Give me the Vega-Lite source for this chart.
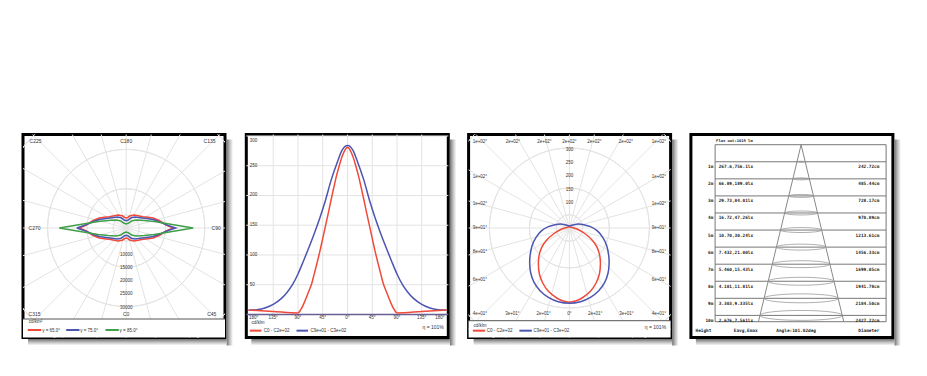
{
"$schema":"https://vega.github.io/schema/vega-lite/v6.json",
"background":"#ffffff",
"padding":{"left":21,"top":132.5,"right":0,"bottom":0},
"spacing":8.3,
"config":{"view":{"stroke":"#000000","strokeWidth":3,"fill":"#ffffff"},"axis":{"disable":true},"legend":{"disable":true}},
"resolve":{"scale":{"color":"independent","radius":"independent","size":"independent"}},
"datasets":{
"c1":[{"r":5000},{"r":10000},{"r":15000},{"r":20000},{"r":25000},{"r":30000},{"r":35000},{"r":40000},{"r":45000},{"r":50000},{"r":55000},{"r":60000}],
"s1":[{"xa":0,"ya":-60000,"xb":0,"yb":60000},{"xa":-15529,"ya":-57956,"xb":15529,"yb":57956},{"xa":-30000,"ya":-51962,"xb":30000,"yb":51962},{"xa":-42426,"ya":-42426,"xb":42426,"yb":42426},{"xa":-51962,"ya":-30000,"xb":51962,"yb":30000},{"xa":-57956,"ya":-15529,"xb":57956,"yb":15529},{"xa":-60000,"ya":0,"xb":60000,"yb":0},{"xa":-57956,"ya":15529,"xb":57956,"yb":-15529},{"xa":-51962,"ya":30000,"xb":51962,"yb":-30000},{"xa":-42426,"ya":42426,"xb":42426,"yb":-42426},{"xa":-30000,"ya":51962,"xb":30000,"yb":-51962},{"xa":-15529,"ya":57956,"xb":15529,"yb":-57956}],
"p1":[
{"s":"r","i":0,"x":-17940,"y":0},{"s":"r","i":1,"x":-15270,"y":1150},{"s":"r","i":2,"x":-12600,"y":2860},{"s":"r","i":3,"x":-10310,"y":3820},{"s":"r","i":4,"x":-8400,"y":4080},{"s":"r","i":5,"x":-6490,"y":4310},{"s":"r","i":6,"x":-4580,"y":4700},{"s":"r","i":7,"x":-3050,"y":4960},{"s":"r","i":8,"x":-1530,"y":4660},{"s":"r","i":9,"x":-570,"y":4010},{"s":"r","i":10,"x":0,"y":3820},{"s":"r","i":11,"x":570,"y":4010},{"s":"r","i":12,"x":1530,"y":4660},{"s":"r","i":13,"x":3050,"y":4960},{"s":"r","i":14,"x":4580,"y":4700},{"s":"r","i":15,"x":6490,"y":4310},{"s":"r","i":16,"x":8400,"y":4080},{"s":"r","i":17,"x":10310,"y":3820},{"s":"r","i":18,"x":12600,"y":2860},{"s":"r","i":19,"x":15270,"y":1150},{"s":"r","i":20,"x":17940,"y":0},{"s":"r","i":21,"x":15270,"y":-1150},{"s":"r","i":22,"x":12600,"y":-2860},{"s":"r","i":23,"x":10310,"y":-3820},{"s":"r","i":24,"x":8400,"y":-4080},{"s":"r","i":25,"x":6490,"y":-4310},{"s":"r","i":26,"x":4580,"y":-4700},{"s":"r","i":27,"x":3050,"y":-4960},{"s":"r","i":28,"x":1530,"y":-4660},{"s":"r","i":29,"x":570,"y":-4010},{"s":"r","i":30,"x":0,"y":-3820},{"s":"r","i":31,"x":-570,"y":-4010},{"s":"r","i":32,"x":-1530,"y":-4660},{"s":"r","i":33,"x":-3050,"y":-4960},{"s":"r","i":34,"x":-4580,"y":-4700},{"s":"r","i":35,"x":-6490,"y":-4310},{"s":"r","i":36,"x":-8400,"y":-4080},{"s":"r","i":37,"x":-10310,"y":-3820},{"s":"r","i":38,"x":-12600,"y":-2860},{"s":"r","i":39,"x":-15270,"y":-1150},{"s":"r","i":40,"x":-17940,"y":0},
{"s":"b","i":0,"x":-18890,"y":0},{"s":"b","i":1,"x":-16030,"y":950},{"s":"b","i":2,"x":-13360,"y":2100},{"s":"b","i":3,"x":-10310,"y":3240},{"s":"b","i":4,"x":-7630,"y":3630},{"s":"b","i":5,"x":-5340,"y":3930},{"s":"b","i":6,"x":-3440,"y":4200},{"s":"b","i":7,"x":-1910,"y":3890},{"s":"b","i":8,"x":-760,"y":3050},{"s":"b","i":9,"x":0,"y":2790},{"s":"b","i":10,"x":760,"y":3050},{"s":"b","i":11,"x":1910,"y":3890},{"s":"b","i":12,"x":3440,"y":4200},{"s":"b","i":13,"x":5340,"y":3930},{"s":"b","i":14,"x":7630,"y":3630},{"s":"b","i":15,"x":10310,"y":3240},{"s":"b","i":16,"x":13360,"y":2100},{"s":"b","i":17,"x":16030,"y":950},{"s":"b","i":18,"x":18890,"y":0},{"s":"b","i":19,"x":16030,"y":-950},{"s":"b","i":20,"x":13360,"y":-2100},{"s":"b","i":21,"x":10310,"y":-3240},{"s":"b","i":22,"x":7630,"y":-3630},{"s":"b","i":23,"x":5340,"y":-3930},{"s":"b","i":24,"x":3440,"y":-4200},{"s":"b","i":25,"x":1910,"y":-3890},{"s":"b","i":26,"x":760,"y":-3050},{"s":"b","i":27,"x":0,"y":-2790},{"s":"b","i":28,"x":-760,"y":-3050},{"s":"b","i":29,"x":-1910,"y":-3890},{"s":"b","i":30,"x":-3440,"y":-4200},{"s":"b","i":31,"x":-5340,"y":-3930},{"s":"b","i":32,"x":-7630,"y":-3630},{"s":"b","i":33,"x":-10310,"y":-3240},{"s":"b","i":34,"x":-13360,"y":-2100},{"s":"b","i":35,"x":-16030,"y":-950},{"s":"b","i":36,"x":-18890,"y":0},
{"s":"g","i":0,"x":-25570,"y":0},{"s":"g","i":1,"x":-20990,"y":760},{"s":"g","i":2,"x":-15270,"y":1720},{"s":"g","i":3,"x":-10690,"y":2480},{"s":"g","i":4,"x":-6870,"y":2860},{"s":"g","i":5,"x":-4200,"y":3050},{"s":"g","i":6,"x":-2290,"y":2790},{"s":"g","i":7,"x":-950,"y":1910},{"s":"g","i":8,"x":0,"y":1530},{"s":"g","i":9,"x":950,"y":1910},{"s":"g","i":10,"x":2290,"y":2790},{"s":"g","i":11,"x":4200,"y":3050},{"s":"g","i":12,"x":6870,"y":2860},{"s":"g","i":13,"x":10690,"y":2480},{"s":"g","i":14,"x":15270,"y":1720},{"s":"g","i":15,"x":20990,"y":760},{"s":"g","i":16,"x":25570,"y":0},{"s":"g","i":17,"x":20990,"y":-760},{"s":"g","i":18,"x":15270,"y":-1720},{"s":"g","i":19,"x":10690,"y":-2480},{"s":"g","i":20,"x":6870,"y":-2860},{"s":"g","i":21,"x":4200,"y":-3050},{"s":"g","i":22,"x":2290,"y":-2790},{"s":"g","i":23,"x":950,"y":-1910},{"s":"g","i":24,"x":0,"y":-1530},{"s":"g","i":25,"x":-950,"y":-1910},{"s":"g","i":26,"x":-2290,"y":-2790},{"s":"g","i":27,"x":-4200,"y":-3050},{"s":"g","i":28,"x":-6870,"y":-2860},{"s":"g","i":29,"x":-10690,"y":-2480},{"s":"g","i":30,"x":-15270,"y":-1720},{"s":"g","i":31,"x":-20990,"y":-760},{"s":"g","i":32,"x":-25570,"y":0}],
"l1":[{"x":-34620,"y":33320,"t":"C225"},{"x":0,"y":33320,"t":"C180"},{"x":31800,"y":33320,"t":"C135"},{"x":-35000,"y":0,"t":"C270"},{"x":34350,"y":0,"t":"C90"},{"x":-35000,"y":-32830,"t":"C315"},{"x":0,"y":-32830,"t":"C0"},{"x":32670,"y":-32830,"t":"C45"}],
"k1":[{"y":-10000,"t":"10000"},{"y":-15000,"t":"15000"},{"y":-20000,"t":"20000"},{"y":-25000,"t":"25000"},{"y":-30000,"t":"30000"}],
"g1":[{"s":"r","t":"γ = 65.0°","x":-37559,"x2":-32445,"tx":-32063},{"s":"b","t":"γ = 75.0°","x":-22902,"x2":-17825,"tx":-17558},{"s":"g","t":"γ = 85.0°","x":-7901,"x2":-2825,"tx":-2557}],
"v2":[{"a":-135},{"a":-90},{"a":-45},{"a":0},{"a":45},{"a":90},{"a":135}],
"h2":[{"v":50},{"v":100},{"v":150},{"v":200},{"v":250},{"v":300}],
"p2":[
{"s":"b","a":-180,"v":7},{"s":"b","a":-165,"v":8},{"s":"b","a":-150,"v":11},{"s":"b","a":-135,"v":17},{"s":"b","a":-120,"v":27},{"s":"b","a":-110,"v":37},{"s":"b","a":-100,"v":50},{"s":"b","a":-90,"v":68},{"s":"b","a":-80,"v":90},{"s":"b","a":-70,"v":113},{"s":"b","a":-60,"v":137},{"s":"b","a":-50,"v":163},{"s":"b","a":-40,"v":192},{"s":"b","a":-30,"v":225},{"s":"b","a":-20,"v":252},{"s":"b","a":-10,"v":276},{"s":"b","a":0,"v":284},{"s":"b","a":10,"v":276},{"s":"b","a":20,"v":252},{"s":"b","a":30,"v":225},{"s":"b","a":40,"v":192},{"s":"b","a":50,"v":163},{"s":"b","a":60,"v":137},{"s":"b","a":70,"v":113},{"s":"b","a":80,"v":90},{"s":"b","a":90,"v":68},{"s":"b","a":100,"v":50},{"s":"b","a":110,"v":37},{"s":"b","a":120,"v":27},{"s":"b","a":135,"v":17},{"s":"b","a":150,"v":11},{"s":"b","a":165,"v":8},{"s":"b","a":180,"v":7},
{"s":"r","a":-180,"v":7.5},{"s":"r","a":-135,"v":5},{"s":"r","a":-90,"v":2.5},{"s":"r","a":-85,"v":8},{"s":"r","a":-80,"v":17},{"s":"r","a":-75,"v":28},{"s":"r","a":-70,"v":40},{"s":"r","a":-65,"v":52},{"s":"r","a":-60,"v":70},{"s":"r","a":-55,"v":88},{"s":"r","a":-50,"v":107},{"s":"r","a":-45,"v":128},{"s":"r","a":-40,"v":149},{"s":"r","a":-35,"v":170},{"s":"r","a":-30,"v":192},{"s":"r","a":-25,"v":213},{"s":"r","a":-20,"v":233},{"s":"r","a":-15,"v":250},{"s":"r","a":-10,"v":265},{"s":"r","a":-5,"v":276},{"s":"r","a":0,"v":281},{"s":"r","a":5,"v":276},{"s":"r","a":10,"v":265},{"s":"r","a":15,"v":250},{"s":"r","a":20,"v":233},{"s":"r","a":25,"v":213},{"s":"r","a":30,"v":192},{"s":"r","a":35,"v":170},{"s":"r","a":40,"v":149},{"s":"r","a":45,"v":128},{"s":"r","a":50,"v":107},{"s":"r","a":55,"v":88},{"s":"r","a":60,"v":70},{"s":"r","a":65,"v":52},{"s":"r","a":70,"v":40},{"s":"r","a":75,"v":28},{"s":"r","a":80,"v":17},{"s":"r","a":85,"v":8},{"s":"r","a":90,"v":2.5},{"s":"r","a":135,"v":5},{"s":"r","a":180,"v":7.5}],
"t2":[{"a":-135,"t":"135°"},{"a":-90,"t":"90°"},{"a":-45,"t":"45°"},{"a":0,"t":"0°"},{"a":45,"t":"45°"},{"a":90,"t":"90°"},{"a":135,"t":"135°"}],
"g2":[{"s":"r","t":"C0 - C2e+02","x":-177.6,"x2":-156.4,"tx":-152.2},{"s":"b","t":"C9e+01 - C3e+02","x":-92.7,"x2":-71.6,"tx":-67.3}],
"c3":[{"r":50},{"r":100},{"r":150},{"r":200},{"r":250},{"r":300},{"r":350},{"r":400},{"r":450},{"r":500},{"r":550},{"r":600}],
"s3":[{"xa":0,"ya":-600,"xb":0,"yb":600},{"xa":-155.3,"ya":-579.6,"xb":155.3,"yb":579.6},{"xa":-300,"ya":-519.6,"xb":300,"yb":519.6},{"xa":-424.3,"ya":-424.3,"xb":424.3,"yb":424.3},{"xa":-519.6,"ya":-300,"xb":519.6,"yb":300},{"xa":-579.6,"ya":-155.3,"xb":579.6,"yb":155.3},{"xa":-600,"ya":0,"xb":600,"yb":0},{"xa":-579.6,"ya":155.3,"xb":579.6,"yb":-155.3},{"xa":-519.6,"ya":300,"xb":519.6,"yb":-300},{"xa":-424.3,"ya":424.3,"xb":424.3,"yb":-424.3},{"xa":-300,"ya":519.6,"xb":300,"yb":-519.6},{"xa":-155.3,"ya":579.6,"xb":155.3,"yb":-579.6}],
"p3":[
{"s":"r","i":0,"x":0,"y":5},{"s":"r","i":1,"x":-28.8,"y":-3.8},{"s":"r","i":2,"x":-60,"y":-22.5},{"s":"r","i":3,"x":-87.5,"y":-47.5},{"s":"r","i":4,"x":-103.8,"y":-72.5},{"s":"r","i":5,"x":-113.8,"y":-103.8},{"s":"r","i":6,"x":-116.3,"y":-135},{"s":"r","i":7,"x":-112.5,"y":-172.5},{"s":"r","i":8,"x":-100,"y":-206.3},{"s":"r","i":9,"x":-78.8,"y":-237.5},{"s":"r","i":10,"x":-47.5,"y":-262.5},{"s":"r","i":11,"x":-22.5,"y":-273.8},{"s":"r","i":12,"x":0,"y":-278},{"s":"r","i":13,"x":22.5,"y":-273.8},{"s":"r","i":14,"x":47.5,"y":-262.5},{"s":"r","i":15,"x":78.8,"y":-237.5},{"s":"r","i":16,"x":100,"y":-206.3},{"s":"r","i":17,"x":112.5,"y":-172.5},{"s":"r","i":18,"x":116.3,"y":-135},{"s":"r","i":19,"x":113.8,"y":-103.8},{"s":"r","i":20,"x":103.8,"y":-72.5},{"s":"r","i":21,"x":87.5,"y":-47.5},{"s":"r","i":22,"x":60,"y":-22.5},{"s":"r","i":23,"x":28.8,"y":-3.8},{"s":"r","i":24,"x":0,"y":5},
{"s":"b","i":0,"x":0,"y":7.5},{"s":"b","i":1,"x":-16.3,"y":12.5},{"s":"b","i":2,"x":-35,"y":15},{"s":"b","i":3,"x":-53.8,"y":12.5},{"s":"b","i":4,"x":-78.8,"y":5},{"s":"b","i":5,"x":-103.8,"y":-10},{"s":"b","i":6,"x":-125,"y":-35},{"s":"b","i":7,"x":-140,"y":-66.3},{"s":"b","i":8,"x":-147.5,"y":-103.8},{"s":"b","i":9,"x":-148.8,"y":-135},{"s":"b","i":10,"x":-145,"y":-168.8},{"s":"b","i":11,"x":-132.5,"y":-203.8},{"s":"b","i":12,"x":-110,"y":-235},{"s":"b","i":13,"x":-78.8,"y":-260},{"s":"b","i":14,"x":-41.3,"y":-276.3},{"s":"b","i":15,"x":0,"y":-282},{"s":"b","i":16,"x":41.3,"y":-276.3},{"s":"b","i":17,"x":78.8,"y":-260},{"s":"b","i":18,"x":110,"y":-235},{"s":"b","i":19,"x":132.5,"y":-203.8},{"s":"b","i":20,"x":145,"y":-168.8},{"s":"b","i":21,"x":148.8,"y":-135},{"s":"b","i":22,"x":147.5,"y":-103.8},{"s":"b","i":23,"x":140,"y":-66.3},{"s":"b","i":24,"x":125,"y":-35},{"s":"b","i":25,"x":103.8,"y":-10},{"s":"b","i":26,"x":78.8,"y":5},{"s":"b","i":27,"x":53.8,"y":12.5},{"s":"b","i":28,"x":35,"y":15},{"s":"b","i":29,"x":16.3,"y":12.5},{"s":"b","i":30,"x":0,"y":7.5}],
"l3":[{"x":-335.6,"y":323.6,"t":"1e+02°"},{"x":-211.9,"y":323.6,"t":"2e+02°"},{"x":-93.8,"y":323.6,"t":"2e+02°"},{"x":0,"y":323.6,"t":"2e+02°"},{"x":93.8,"y":323.6,"t":"2e+02°"},{"x":211.9,"y":323.6,"t":"2e+02°"},{"x":335.6,"y":323.6,"t":"1e+02°"},
{"x":-335.6,"y":192.4,"t":"1e+02°"},{"x":-335.6,"y":90,"t":"1e+02°"},{"x":-335.6,"y":0,"t":"9e+01°"},{"x":-335.6,"y":-91.1,"t":"8e+01°"},{"x":-335.6,"y":-193.9,"t":"6e+01°"},
{"x":335.6,"y":192.4,"t":"1e+02°"},{"x":335.6,"y":90,"t":"1e+02°"},{"x":335.6,"y":0,"t":"9e+01°"},{"x":335.6,"y":-91.1,"t":"8e+01°"},{"x":335.6,"y":-193.9,"t":"6e+01°"},
{"x":-335.6,"y":-322.5,"t":"4e+01°"},{"x":-213.8,"y":-322.5,"t":"3e+01°"},{"x":-96.4,"y":-322.5,"t":"2e+01°"},{"x":0,"y":-322.5,"t":"0°"},{"x":96.4,"y":-322.5,"t":"2e+01°"},{"x":213.8,"y":-322.5,"t":"3e+01°"},{"x":335.6,"y":-322.5,"t":"4e+01°"}],
"k3":[{"y":100,"t":"100"},{"y":150,"t":"150"},{"y":200,"t":"200"},{"y":250,"t":"250"},{"y":300,"t":"300"}],
"g3":[{"s":"r","t":"C0 - C2e+02","x":-362,"x2":-316,"tx":-309.8},{"s":"b","t":"C9e+01 - C3e+02","x":-187.5,"x2":-141,"tx":-135}],
"t4":[{"h":1,"hl":"1m","e":"267.6,756.1lx","d":"242.72cm"},{"h":2,"hl":"2m","e":"66.89,189.0lx","d":"485.44cm"},{"h":3,"hl":"3m","e":"29.73,84.01lx","d":"728.17cm"},{"h":4,"hl":"4m","e":"16.72,47.26lx","d":"970.89cm"},{"h":5,"hl":"5m","e":"10.70,30.24lx","d":"1213.61cm"},{"h":6,"hl":"6m","e":"7.432,21.00lx","d":"1456.33cm"},{"h":7,"hl":"7m","e":"5.460,15.43lx","d":"1699.05cm"},{"h":8,"hl":"8m","e":"4.181,11.81lx","d":"1941.78cm"},{"h":9,"hl":"9m","e":"3.303,9.335lx","d":"2184.50cm"},{"h":10,"hl":"10m","e":"2.676,7.561lx","d":"2427.22cm"}],
"b4":[{"x":-5.72,"t":"Height"},{"x":-3.245,"t":"Eavg,Emax"},{"x":-0.29,"t":"Angle:101.02deg"}]
},
"hconcat":[
{"width":202,"height":203,"layer":[
{"data":{"values":[{}]},"mark":{"type":"rect","fill":{"gradient":"linear","x1":0,"y1":0,"x2":1,"y2":0,"stops":[{"offset":0,"color":"#6e6e6e"},{"offset":0.45,"color":"#b8b8b8"},{"offset":1,"color":"#ffffff"}]}},
 "encoding":{"x":{"datum":38285,"type":"quantitative","scale":{"domain":[-39391,37712],"nice":false,"zero":false}},"x2":{"datum":40766},"y":{"datum":33780,"type":"quantitative","scale":{"domain":[-41796,35689],"nice":false,"zero":false}},"y2":{"datum":-44850}}},
{"data":{"values":[{}]},"mark":{"type":"rect","fill":{"gradient":"linear","x1":0,"y1":0,"x2":0,"y2":1,"stops":[{"offset":0,"color":"#6e6e6e"},{"offset":0.45,"color":"#b8b8b8"},{"offset":1,"color":"#ffffff"}]}},
 "encoding":{"x":{"datum":-37483,"type":"quantitative"},"x2":{"datum":38285},"y":{"datum":-42369,"type":"quantitative"},"y2":{"datum":-44850}}},
{"data":{"name":"c1"},"mark":{"type":"arc","theta":0,"theta2":6.2832,"filled":false,"stroke":"#e3e3e3","strokeWidth":1,"clip":true},
 "encoding":{"x":{"datum":0,"type":"quantitative"},"y":{"datum":0,"type":"quantitative"},"radius":{"field":"r","type":"quantitative","scale":{"type":"linear","domain":[0,60000],"range":[0,157.2],"zero":true,"nice":false}}}},
{"data":{"name":"s1"},"mark":{"type":"rule","stroke":"#e3e3e3","strokeWidth":1,"clip":true},
 "encoding":{"x":{"field":"xa","type":"quantitative"},"y":{"field":"ya","type":"quantitative"},"x2":{"field":"xb"},"y2":{"field":"yb"}}},
{"data":{"values":[{}]},"mark":{"type":"rect","fill":"#ffffff"},
 "encoding":{"x":{"datum":-39391,"type":"quantitative"},"x2":{"datum":37712},"y":{"datum":-34735,"type":"quantitative"},"y2":{"datum":-41796}}},
{"data":{"values":[{}]},"mark":{"type":"rule","stroke":"#555555","strokeWidth":1},
 "encoding":{"x":{"datum":-39391,"type":"quantitative"},"x2":{"datum":37712},"y":{"datum":-34735,"type":"quantitative"}}},
{"data":{"name":"p1"},"mark":{"type":"line","strokeWidth":1.5},
 "encoding":{"x":{"field":"x","type":"quantitative"},"y":{"field":"y","type":"quantitative"},"order":{"field":"i","type":"quantitative"},"color":{"field":"s","type":"nominal","scale":{"domain":["r","b","g"],"range":["#f04a3a","#4c55b0","#3fa049"]},"legend":null}}},
{"data":{"name":"l1"},"mark":{"type":"text","fontSize":5,"font":"Liberation Sans","color":"#333333"},
 "encoding":{"x":{"field":"x","type":"quantitative"},"y":{"field":"y","type":"quantitative"},"text":{"field":"t"}}},
{"data":{"name":"k1"},"mark":{"type":"text","fontSize":4.5,"font":"Liberation Sans","color":"#333333","dy":1},
 "encoding":{"x":{"datum":0,"type":"quantitative"},"y":{"field":"y","type":"quantitative"},"text":{"field":"t"}}},
{"data":{"name":"g1"},"mark":{"type":"rule","strokeWidth":2},
 "encoding":{"x":{"field":"x","type":"quantitative"},"x2":{"field":"x2"},"y":{"datum":-38933,"type":"quantitative"},"color":{"field":"s","type":"nominal","legend":null}}},
{"data":{"name":"g1"},"mark":{"type":"text","align":"left","fontSize":4.5,"font":"Liberation Sans","color":"#333333","dy":0.8},
 "encoding":{"x":{"field":"tx","type":"quantitative"},"y":{"datum":-38933,"type":"quantitative"},"text":{"field":"t"}}},
{"data":{"values":[{}]},"mark":{"type":"text","text":"cd/km²","align":"left","fontSize":4.5,"font":"Liberation Sans","color":"#333333"},
 "encoding":{"x":{"datum":-37178,"type":"quantitative"},"y":{"datum":-35994,"type":"quantitative"}}}
]},
{"width":202,"height":203,"layer":[
{"data":{"values":[{}]},"mark":{"type":"rect","fill":{"gradient":"linear","x1":0,"y1":0,"x2":1,"y2":0,"stops":[{"offset":0,"color":"#6e6e6e"},{"offset":0.45,"color":"#b8b8b8"},{"offset":1,"color":"#ffffff"}]}},
 "encoding":{"x":{"datum":186.03,"type":"quantitative","scale":{"domain":[-184,183.3],"nice":false,"zero":false}},"x2":{"datum":197.85},"y":{"datum":294.1,"type":"quantitative","scale":{"domain":[-38.7,302.5],"nice":false,"zero":false}},"y2":{"datum":-52.15}}},
{"data":{"values":[{}]},"mark":{"type":"rect","fill":{"gradient":"linear","x1":0,"y1":0,"x2":0,"y2":1,"stops":[{"offset":0,"color":"#6e6e6e"},{"offset":0.45,"color":"#b8b8b8"},{"offset":1,"color":"#ffffff"}]}},
 "encoding":{"x":{"datum":-174.9,"type":"quantitative"},"x2":{"datum":186.03},"y":{"datum":-41.22,"type":"quantitative"},"y2":{"datum":-52.15}}},
{"data":{"name":"v2"},"mark":{"type":"rule","stroke":"#e3e3e3","strokeWidth":1},
 "encoding":{"x":{"field":"a","type":"quantitative"},"y":{"datum":0,"type":"quantitative"},"y2":{"datum":302.5}}},
{"data":{"name":"h2"},"mark":{"type":"rule","stroke":"#e3e3e3","strokeWidth":1},
 "encoding":{"y":{"field":"v","type":"quantitative"},"x":{"datum":-184,"type":"quantitative"},"x2":{"datum":183.3}}},
{"data":{"values":[{}]},"mark":{"type":"rule","stroke":"#6a5f92","strokeWidth":1.5},
 "encoding":{"y":{"datum":0,"type":"quantitative"},"x":{"datum":-184,"type":"quantitative"},"x2":{"datum":183.3}}},
{"data":{"name":"p2"},"mark":{"type":"line","strokeWidth":1.5,"interpolate":"monotone"},
 "encoding":{"x":{"field":"a","type":"quantitative"},"y":{"field":"v","type":"quantitative"},"color":{"field":"s","type":"nominal","scale":{"domain":["r","b"],"range":["#f04a3a","#4c55b0"]},"legend":null}}},
{"data":{"name":"h2"},"transform":[{"filter":"datum.v < 300"}],"mark":{"type":"text","align":"left","fontSize":4.5,"font":"Liberation Sans","color":"#333333"},
 "encoding":{"x":{"datum":-177.6,"type":"quantitative"},"y":{"field":"v","type":"quantitative"},"text":{"field":"v","type":"quantitative"}}},
{"data":{"name":"h2"},"transform":[{"filter":"datum.v == 300"}],"mark":{"type":"text","align":"left","baseline":"top","dy":2.5,"fontSize":4.5,"font":"Liberation Sans","color":"#333333"},
 "encoding":{"x":{"datum":-177.6,"type":"quantitative"},"y":{"field":"v","type":"quantitative"},"text":{"field":"v","type":"quantitative"}}},
{"data":{"name":"t2"},"mark":{"type":"text","dy":4,"fontSize":4.5,"font":"Liberation Sans","color":"#333333"},
 "encoding":{"x":{"field":"a","type":"quantitative"},"y":{"datum":0,"type":"quantitative"},"text":{"field":"t"}}},
{"data":{"values":[{}]},"mark":{"type":"text","text":"180°","align":"left","dy":4,"fontSize":4.5,"font":"Liberation Sans","color":"#333333"},
 "encoding":{"x":{"datum":-179,"type":"quantitative"},"y":{"datum":0,"type":"quantitative"}}},
{"data":{"values":[{}]},"mark":{"type":"text","text":"180°","align":"right","dy":4,"fontSize":4.5,"font":"Liberation Sans","color":"#333333"},
 "encoding":{"x":{"datum":176.5,"type":"quantitative"},"y":{"datum":0,"type":"quantitative"}}},
{"data":{"values":[{}]},"mark":{"type":"text","text":"cd/klm","align":"left","fontSize":4.5,"font":"Liberation Sans","color":"#333333"},
 "encoding":{"x":{"datum":-174.5,"type":"quantitative"},"y":{"datum":-14.8,"type":"quantitative"}}},
{"data":{"values":[{}]},"mark":{"type":"text","text":"η = 101%","align":"right","fontSize":5,"font":"Liberation Sans","color":"#333333"},
 "encoding":{"x":{"datum":175.1,"type":"quantitative"},"y":{"datum":-20.5,"type":"quantitative"}}},
{"data":{"name":"g2"},"mark":{"type":"rule","strokeWidth":2},
 "encoding":{"x":{"field":"x","type":"quantitative"},"x2":{"field":"x2"},"y":{"datum":-27.2,"type":"quantitative"},"color":{"field":"s","type":"nominal","legend":null}}},
{"data":{"name":"g2"},"mark":{"type":"text","align":"left","fontSize":4.5,"font":"Liberation Sans","color":"#333333","dy":0.8},
 "encoding":{"x":{"field":"tx","type":"quantitative"},"y":{"datum":-27.2,"type":"quantitative"},"text":{"field":"t"}}}
]},
{"width":202,"height":203,"layer":[
{"data":{"values":[{}]},"mark":{"type":"rect","fill":{"gradient":"linear","x1":0,"y1":0,"x2":1,"y2":0,"stops":[{"offset":0,"color":"#6e6e6e"},{"offset":0.45,"color":"#b8b8b8"},{"offset":1,"color":"#ffffff"}]}},
 "encoding":{"x":{"datum":385.1,"type":"quantitative","scale":{"domain":[-378,379.5],"nice":false,"zero":false}},"x2":{"datum":409.5},"y":{"datum":331.9,"type":"quantitative","scale":{"domain":[-410.6,350.6],"nice":false,"zero":false}},"y2":{"datum":-440.6}}},
{"data":{"values":[{}]},"mark":{"type":"rect","fill":{"gradient":"linear","x1":0,"y1":0,"x2":0,"y2":1,"stops":[{"offset":0,"color":"#6e6e6e"},{"offset":0.45,"color":"#b8b8b8"},{"offset":1,"color":"#ffffff"}]}},
 "encoding":{"x":{"datum":-359.25,"type":"quantitative"},"x2":{"datum":385.1},"y":{"datum":-416.2,"type":"quantitative"},"y2":{"datum":-440.6}}},
{"data":{"name":"c3"},"mark":{"type":"arc","theta":0,"theta2":6.2832,"filled":false,"stroke":"#e3e3e3","strokeWidth":1,"clip":true},
 "encoding":{"x":{"datum":0,"type":"quantitative"},"y":{"datum":0,"type":"quantitative"},"radius":{"field":"r","type":"quantitative","scale":{"type":"linear","domain":[0,600],"range":[0,160],"zero":true,"nice":false}}}},
{"data":{"name":"s3"},"mark":{"type":"rule","stroke":"#e3e3e3","strokeWidth":1,"clip":true},
 "encoding":{"x":{"field":"xa","type":"quantitative"},"y":{"field":"ya","type":"quantitative"},"x2":{"field":"xb"},"y2":{"field":"yb"}}},
{"data":{"values":[{}]},"mark":{"type":"rect","fill":"#ffffff"},
 "encoding":{"x":{"datum":-378,"type":"quantitative"},"x2":{"datum":379.5},"y":{"datum":-347.6,"type":"quantitative"},"y2":{"datum":-410.6}}},
{"data":{"values":[{}]},"mark":{"type":"rule","stroke":"#555555","strokeWidth":1},
 "encoding":{"x":{"datum":-378,"type":"quantitative"},"x2":{"datum":379.5},"y":{"datum":-347.6,"type":"quantitative"}}},
{"data":{"name":"p3"},"mark":{"type":"line","strokeWidth":1.5,"interpolate":"catmull-rom"},
 "encoding":{"x":{"field":"x","type":"quantitative"},"y":{"field":"y","type":"quantitative"},"order":{"field":"i","type":"quantitative"},"color":{"field":"s","type":"nominal","scale":{"domain":["r","b"],"range":["#f04a3a","#4c55b0"]},"legend":null}}},
{"data":{"name":"l3"},"mark":{"type":"text","fontSize":4.5,"font":"Liberation Sans","color":"#333333"},
 "encoding":{"x":{"field":"x","type":"quantitative"},"y":{"field":"y","type":"quantitative"},"text":{"field":"t"}}},
{"data":{"name":"k3"},"mark":{"type":"text","fontSize":4.5,"font":"Liberation Sans","color":"#333333","dy":1.7},
 "encoding":{"x":{"datum":0,"type":"quantitative"},"y":{"field":"y","type":"quantitative"},"text":{"field":"t"}}},
{"data":{"values":[{}]},"mark":{"type":"text","text":"cd/klm","align":"left","fontSize":4.5,"font":"Liberation Sans","color":"#333333"},
 "encoding":{"x":{"datum":-360,"type":"quantitative"},"y":{"datum":-366.4,"type":"quantitative"}}},
{"data":{"values":[{}]},"mark":{"type":"text","text":"η = 101%","align":"right","fontSize":5,"font":"Liberation Sans","color":"#333333"},
 "encoding":{"x":{"datum":362.6,"type":"quantitative"},"y":{"datum":-370,"type":"quantitative"}}},
{"data":{"name":"g3"},"mark":{"type":"rule","strokeWidth":2},
 "encoding":{"x":{"field":"x","type":"quantitative"},"x2":{"field":"x2"},"y":{"datum":-385,"type":"quantitative"},"color":{"field":"s","type":"nominal","legend":null}}},
{"data":{"name":"g3"},"mark":{"type":"text","align":"left","fontSize":4.5,"font":"Liberation Sans","color":"#333333","dy":0.8},
 "encoding":{"x":{"field":"tx","type":"quantitative"},"y":{"datum":-385,"type":"quantitative"},"text":{"field":"t"}}}
]},
{"width":202,"height":203,"layer":[
{"data":{"values":[{}]},"mark":{"type":"rect","fill":{"gradient":"linear","x1":0,"y1":0,"x2":1,"y2":0,"stops":[{"offset":0,"color":"#6e6e6e"},{"offset":0.45,"color":"#b8b8b8"},{"offset":1,"color":"#ffffff"}]}},
 "encoding":{"x":{"datum":5.466,"type":"quantitative","scale":{"domain":[-6.456,5.378],"nice":false,"zero":false}},"x2":{"datum":5.847},"y":{"datum":-0.305,"type":"quantitative","scale":{"domain":[-0.598,11.295],"nice":false,"zero":false,"reverse":true}},"y2":{"datum":11.764}}},
{"data":{"values":[{}]},"mark":{"type":"rect","fill":{"gradient":"linear","x1":0,"y1":0,"x2":0,"y2":1,"stops":[{"offset":0,"color":"#6e6e6e"},{"offset":0.45,"color":"#b8b8b8"},{"offset":1,"color":"#ffffff"}]}},
 "encoding":{"x":{"datum":-6.163,"type":"quantitative"},"x2":{"datum":5.466},"y":{"datum":11.383,"type":"quantitative"},"y2":{"datum":11.764}}},
{"data":{"values":[{}]},"mark":{"type":"rect","filled":false,"stroke":"#777777","strokeWidth":1},
 "encoding":{"x":{"datum":-5.038,"type":"quantitative"},"x2":{"datum":4.98},"y":{"datum":0,"type":"quantitative"},"y2":{"datum":10.37}}},
{"data":{"name":"t4"},"mark":{"type":"rule","stroke":"#777777","strokeWidth":1},
 "encoding":{"y":{"field":"h","type":"quantitative"},"x":{"datum":-5.038,"type":"quantitative"},"x2":{"datum":4.98}}},
{"data":{"values":[{}]},"mark":{"type":"rule","stroke":"#888888","strokeWidth":1},
 "encoding":{"x":{"datum":0,"type":"quantitative"},"y":{"datum":0,"type":"quantitative"},"x2":{"datum":-2.5},"y2":{"datum":10.37}}},
{"data":{"values":[{}]},"mark":{"type":"rule","stroke":"#888888","strokeWidth":1},
 "encoding":{"x":{"datum":0,"type":"quantitative"},"y":{"datum":0,"type":"quantitative"},"x2":{"datum":2.5},"y2":{"datum":10.37}}},
{"data":{"name":"t4"},"mark":{"type":"point","shape":"M-1,0C-1,-0.066,-0.552,-0.12,0,-0.12C0.552,-0.12,1,-0.066,1,0C1,0.066,0.552,0.12,0,0.12C-0.552,0.12,-1,0.066,-1,0Z","filled":false,"color":"#999999","strokeWidth":0.8,"opacity":1},
 "encoding":{"x":{"datum":0,"type":"quantitative"},"y":{"field":"h","type":"quantitative"},"size":{"field":"h","type":"quantitative","scale":{"type":"pow","exponent":2,"domain":[0,10],"range":[0,6790]},"legend":null}}},
{"data":{"name":"t4"},"mark":{"type":"text","align":"right","dy":5.5,"fontSize":4.4,"font":"DejaVu Sans Mono","fontWeight":"bold","color":"#222222"},
 "encoding":{"x":{"datum":-5.138,"type":"quantitative"},"y":{"field":"h","type":"quantitative"},"text":{"field":"hl"}}},
{"data":{"name":"t4"},"mark":{"type":"text","align":"left","dy":5.5,"fontSize":4.4,"font":"DejaVu Sans Mono","fontWeight":"bold","color":"#222222"},
 "encoding":{"x":{"datum":-4.827,"type":"quantitative"},"y":{"field":"h","type":"quantitative"},"text":{"field":"e"}}},
{"data":{"name":"t4"},"mark":{"type":"text","align":"right","dy":5.5,"fontSize":4.4,"font":"DejaVu Sans Mono","fontWeight":"bold","color":"#222222"},
 "encoding":{"x":{"datum":4.587,"type":"quantitative"},"y":{"field":"h","type":"quantitative"},"text":{"field":"d"}}},
{"data":{"values":[{}]},"mark":{"type":"text","text":"Flux out:1619 lm","align":"left","fontSize":3.8,"font":"DejaVu Sans Mono","fontWeight":"bold","color":"#222222"},
 "encoding":{"x":{"datum":-4.98,"type":"quantitative"},"y":{"datum":-0.2,"type":"quantitative"}}},
{"data":{"name":"b4"},"mark":{"type":"text","fontSize":4.4,"font":"DejaVu Sans Mono","fontWeight":"bold","color":"#222222"},
 "encoding":{"x":{"field":"x","type":"quantitative"},"y":{"datum":10.9,"type":"quantitative"},"text":{"field":"t"}}},
{"data":{"values":[{}]},"mark":{"type":"text","text":"Diameter","align":"right","fontSize":4.4,"font":"DejaVu Sans Mono","fontWeight":"bold","color":"#222222"},
 "encoding":{"x":{"datum":4.587,"type":"quantitative"},"y":{"datum":10.9,"type":"quantitative"}}}
]}
]
}
